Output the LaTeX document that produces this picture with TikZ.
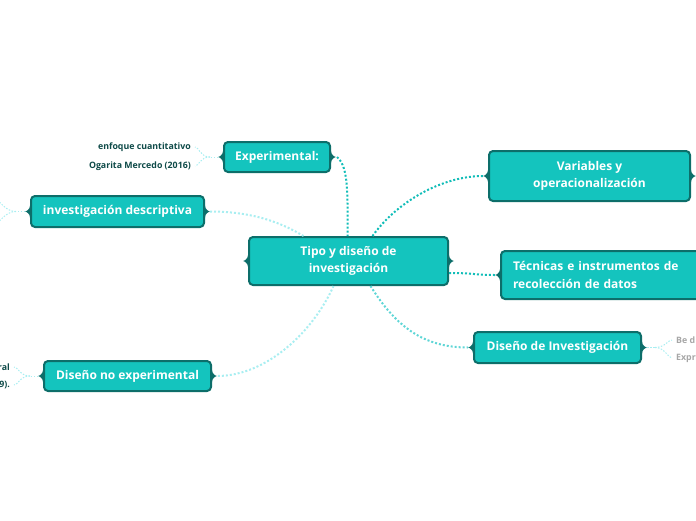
\documentclass[tikz,border=0pt]{standalone}
\usepackage{fontspec}
\setmainfont{Open Sans}
\usetikzlibrary{positioning}

\definecolor{boxfill}{HTML}{14C4BE}
\definecolor{boxline}{HTML}{0D6E6A}
\definecolor{linkdark}{HTML}{12BDB8}
\definecolor{linkmid}{HTML}{5FD6D6}
\definecolor{linklight}{HTML}{A9EEF1}
\definecolor{leaftext}{HTML}{0E4A48}
\definecolor{leafgray}{HTML}{A6A6A6}

\tikzset{
  topic/.style={draw=boxline, fill=boxfill, line width=2pt, rounded corners=4pt,
    text=white, font=\fontsize{12}{17.5}\selectfont\bfseries, align=center, inner sep=0pt},
  link/.style={line width=2pt, dash pattern=on 2pt off 2pt},
  twig/.style={line width=1pt, dash pattern=on 1.5pt off 1.5pt, linklight},
  leaf/.style={font=\fontsize{8.8}{10}\selectfont\bfseries, text=leaftext, inner sep=0pt},
}

% little braces on both sides of a topic
\newcommand{\sidebrace}[1]{%
  \fill[boxline] (#1.west) ++(0,-6) .. controls +(0,4) and +(1,0) .. ++(-5,6)
    .. controls +(1,0) and +(0,-4) .. ++(5,6) -- cycle;
  \fill[boxline] (#1.east) ++(0,-6) .. controls +(0,4) and +(-1,0) .. ++(5,6)
    .. controls +(-1,0) and +(0,-4) .. ++(-5,6) -- cycle;}

\begin{document}
\begin{tikzpicture}[x=1pt, y=-1pt]
    \useasboundingbox (0,0) rectangle (696,520);
    \clip (0,0) rectangle (696,520);

    % 1. Temas
    \node[topic, minimum width=199pt, minimum height=48pt] (centre) at (348.5,261) {Tipo y diseño de\\investigación};
    \node[topic, minimum width=106pt, minimum height=30pt] (exper) at (277,157) {Experimental:};
    \node[topic, minimum width=173pt, minimum height=31pt] (descr) at (117.5,211.5) {investigación descriptiva};
    \node[topic, minimum width=201pt, minimum height=50pt] (vars) at (589.5,176) {Variables y\\operacionalización};
    \node[topic, minimum width=200pt, minimum height=48pt, text width=176pt, align=left] (tecn) at (601,275) {Técnicas e instrumentos de\\recolección de datos};
    \node[topic, minimum width=167pt, minimum height=31pt] (disinv) at (557.5,347.5) {Diseño de Investigación};
    \node[topic, minimum width=167pt, minimum height=30pt] (noexp) at (127.5,376) {Diseño no experimental};
    \foreach \t in {centre,exper,descr,vars,tecn,disinv,noexp} {\sidebrace{\t}}

    % 2. Hojas
    \node[leaf, anchor=east] (enfoque) at (191,147) {enfoque cuantitativo};
    \node[leaf, anchor=east] (ogarita) at (191,166) {Ogarita Mercedo (2016)};
    \node[leaf, anchor=east] (ral) at (10,367) {ral};
    \node[leaf, anchor=east] (nueve) at (10,385) {9).};
    \node[leaf, anchor=west, text=leafgray] (bed) at (676,340) {Be d};
    \node[leaf, anchor=west, text=leafgray] (expr) at (676,358) {Expr};

    % 3. Conectores
    \draw[link, linkdark] ([xshift=6pt]exper.east) .. controls +(12,10) and +(0,-40) .. ([xshift=-1pt]centre.north);
    \draw[link, linkdark] ([xshift=24pt]centre.north) .. controls +(25,-35) and +(-40,0) .. ([xshift=-5pt]vars.west);
    \draw[link, linklight] ([xshift=5pt]descr.east) .. controls +(45,0) and +(-20,-12) .. ([xshift=-45pt]centre.north);
    \draw[link, linklight] ([xshift=-15pt]centre.south) .. controls +(-20,45) and +(50,0) .. ([xshift=5pt]noexp.east);
    \draw[link, linkmid] ([xshift=22pt]centre.south) .. controls +(25,40) and +(-45,0) .. ([xshift=-5pt]disinv.west);
    \draw[link, linkdark] ([yshift=-12pt]centre.east) .. controls +(25,0) and +(-20,0) .. ([xshift=-5pt]tecn.west);

    % 4. Ramitas
    \coordinate (expfork) at (210,157);
    \draw[twig] ([xshift=-5pt]exper.west) -- (expfork);
    \draw[twig] (expfork) .. controls +(-10,0) and +(4,0) .. ([xshift=4pt]enfoque.east);
    \draw[twig] (expfork) .. controls +(-10,0) and +(4,0) .. ([xshift=4pt]ogarita.east);
    \coordinate (descfork) at (16,211.5);
    \coordinate (descup) at (-6,199);
    \coordinate (descdown) at (-6,224);
    \draw[twig] ([xshift=-5pt]descr.west) -- (descfork);
    \draw[twig] (descfork) .. controls +(-12,0) and +(6,0) .. (descup);
    \draw[twig] (descfork) .. controls +(-12,0) and +(6,0) .. (descdown);
    \coordinate (noexpfork) at (30,376);
    \draw[twig] ([xshift=-5pt]noexp.west) -- (noexpfork);
    \draw[twig] (noexpfork) .. controls +(-10,0) and +(4,0) .. ([xshift=4pt]ral.east);
    \draw[twig] (noexpfork) .. controls +(-10,0) and +(4,0) .. ([xshift=4pt]nueve.east);
    \coordinate (disfork) at (655,347.5);
    \draw[twig] ([xshift=5pt]disinv.east) -- (disfork);
    \draw[twig] (disfork) .. controls +(10,0) and +(-4,0) .. ([xshift=-4pt]bed.west);
    \draw[twig] (disfork) .. controls +(10,0) and +(-4,0) .. ([xshift=-4pt]expr.west);
\end{tikzpicture}
\end{document}
